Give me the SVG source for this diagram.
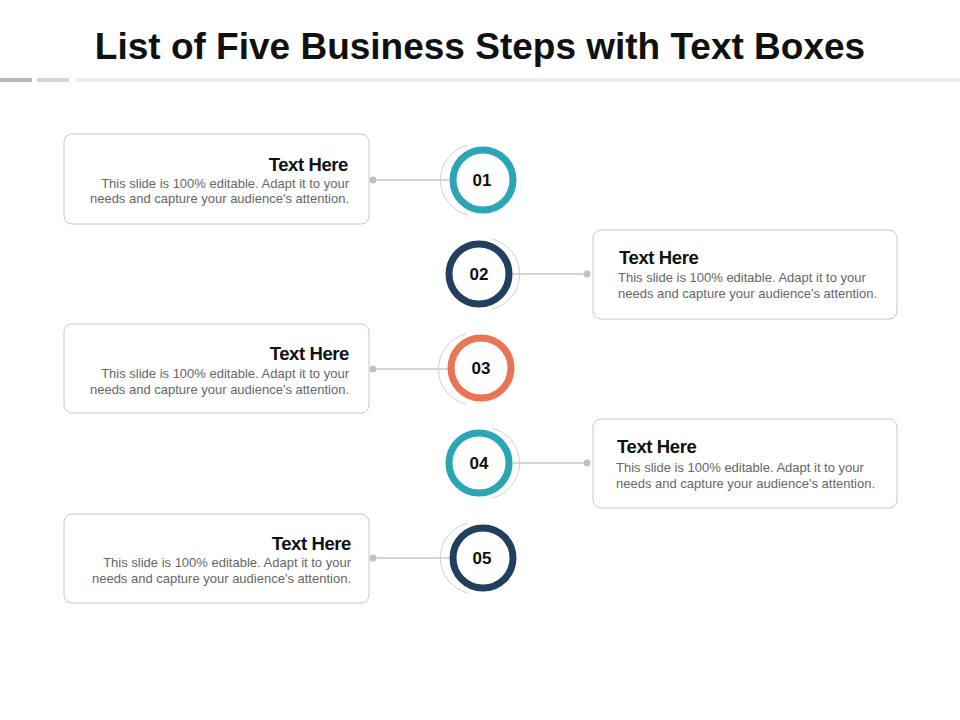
<svg xmlns="http://www.w3.org/2000/svg" width="960" height="720" viewBox="0 0 960 720">
<style>
.box{fill:#fff;stroke:#c8c8c8;stroke-width:1}
.h{font-family:"Liberation Sans",Arial,sans-serif;font-weight:bold;font-size:18.5px;letter-spacing:-0.4px;fill:#111}
.b{font-family:"Liberation Sans",Arial,sans-serif;font-size:13px;fill:#666}
.n{font-family:"Liberation Sans",Arial,sans-serif;font-weight:bold;font-size:17px;fill:#111;text-anchor:middle}
.ln{stroke:#c8c8c8;stroke-width:1.5}
.dot{fill:#c0c0c0}
.arc{fill:none;stroke:#d0d0d0;stroke-width:1}
</style>
<rect width="960" height="720" fill="#fff"/>
<text x="480" y="59" text-anchor="middle" font-family="Liberation Sans,Arial,sans-serif" font-weight="bold" font-size="37" fill="#111">List of Five Business Steps with Text Boxes</text>
<rect x="0" y="78" width="32" height="4" fill="#b4b4b4"/>
<rect x="37" y="78" width="32" height="4" fill="#d4d4d4"/>
<rect x="75" y="78" width="885" height="4" fill="#eeeeee"/>
<g id="connectors">
<line class="ln" x1="373" y1="180" x2="449" y2="180"/><circle class="dot" cx="373" cy="180" r="3.5"/>
<line class="ln" x1="513" y1="274" x2="587" y2="274"/><circle class="dot" cx="587" cy="274" r="3.5"/>
<line class="ln" x1="373" y1="369" x2="449" y2="369"/><circle class="dot" cx="373" cy="369" r="3.5"/>
<line class="ln" x1="513" y1="463" x2="587" y2="463"/><circle class="dot" cx="587" cy="463" r="3.5"/>
<line class="ln" x1="373" y1="558" x2="449" y2="558"/><circle class="dot" cx="373" cy="558" r="3.5"/>
</g>
<g id="step1">
<rect class="box" x="64" y="134" width="305" height="90" rx="8"/>
<text class="h" x="348" y="171" text-anchor="end">Text Here</text>
<text class="b" x="349" y="188" text-anchor="end">This slide is 100% editable. Adapt it to your</text>
<text class="b" x="349" y="203" text-anchor="end">needs and capture your audience's attention.</text>
<path class="arc" d="M468 145 A36 36 0 0 0 468 215"/>
<circle cx="483" cy="180" r="30" fill="#fff" stroke="#2aa6b5" stroke-width="7"/>
<text class="n" x="482" y="186">01</text>
</g>
<g id="step2">
<rect class="box" x="593" y="230" width="304" height="89" rx="8"/>
<text class="h" x="619" y="264">Text Here</text>
<text class="b" x="618" y="282">This slide is 100% editable. Adapt it to your</text>
<text class="b" x="618" y="298">needs and capture your audience's attention.</text>
<path class="arc" d="M492 239 A36 36 0 0 1 492 309"/>
<circle cx="479" cy="274" r="30" fill="#fff" stroke="#233f60" stroke-width="7"/>
<text class="n" x="479" y="280">02</text>
</g>
<g id="step3">
<rect class="box" x="64" y="324" width="305" height="89" rx="8"/>
<text class="h" x="349" y="360" text-anchor="end">Text Here</text>
<text class="b" x="349" y="378" text-anchor="end">This slide is 100% editable. Adapt it to your</text>
<text class="b" x="349" y="394" text-anchor="end">needs and capture your audience's attention.</text>
<path class="arc" d="M466 334 A36 36 0 0 0 466 404"/>
<circle cx="481" cy="368" r="30" fill="#fff" stroke="#ea7454" stroke-width="7"/>
<text class="n" x="481" y="374">03</text>
</g>
<g id="step4">
<rect class="box" x="593" y="419" width="304" height="89" rx="8"/>
<text class="h" x="617" y="453">Text Here</text>
<text class="b" x="616" y="472">This slide is 100% editable. Adapt it to your</text>
<text class="b" x="616" y="488">needs and capture your audience's attention.</text>
<path class="arc" d="M492 428 A36 36 0 0 1 492 498"/>
<circle cx="479" cy="463" r="30" fill="#fff" stroke="#2aa6b5" stroke-width="7"/>
<text class="n" x="479" y="469">04</text>
</g>
<g id="step5">
<rect class="box" x="64" y="514" width="305" height="89" rx="8"/>
<text class="h" x="351" y="550" text-anchor="end">Text Here</text>
<text class="b" x="351" y="567" text-anchor="end">This slide is 100% editable. Adapt it to your</text>
<text class="b" x="351" y="583" text-anchor="end">needs and capture your audience's attention.</text>
<path class="arc" d="M468 523 A36 36 0 0 0 468 593"/>
<circle cx="483" cy="558" r="30" fill="#fff" stroke="#233f60" stroke-width="7"/>
<text class="n" x="482" y="564">05</text>
</g>
</svg>
